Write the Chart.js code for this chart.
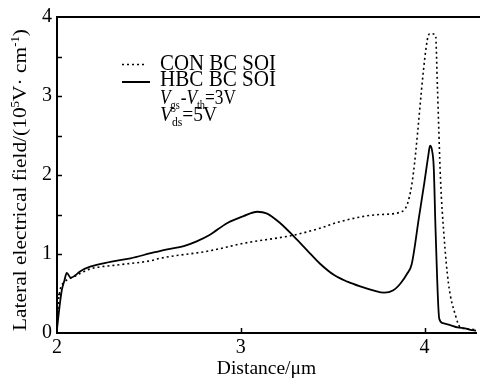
<!DOCTYPE html>
<html><head><meta charset="utf-8">
<script src="https://cdn.jsdelivr.net/npm/chart.js@4/dist/chart.umd.min.js"></script>
<style>html,body{margin:0;padding:0;background:#fff}#wrap{width:480px;height:383px;position:relative}</style>
</head><body><div id="wrap"><canvas id="c" width="480" height="383"></canvas></div>
<script>
// ---- data ----
const hbcX = [2.00, 2.012, 2.026, 2.04, 2.053, 2.075, 2.10, 2.125, 2.18, 2.29, 2.40, 2.51, 2.60, 2.69, 2.76, 2.83, 2.925, 3.015, 3.09, 3.14, 3.215, 3.29, 3.36, 3.43, 3.51, 3.58, 3.65, 3.72, 3.78, 3.83, 3.87, 3.905, 3.93, 3.97, 4.00, 4.02, 4.03, 4.04, 4.05, 4.06, 4.08, 4.10, 4.14, 4.18, 4.22, 4.25, 4.28];
const hbcY = [0.05, 0.30, 0.54, 0.66, 0.76, 0.70, 0.73, 0.78, 0.84, 0.90, 0.945, 1.01, 1.06, 1.10, 1.16, 1.24, 1.39, 1.48, 1.535, 1.515, 1.39, 1.22, 1.05, 0.88, 0.73, 0.65, 0.59, 0.54, 0.51, 0.54, 0.63, 0.75, 0.87, 1.47, 1.92, 2.24, 2.37, 2.32, 2.10, 1.30, 0.18, 0.125, 0.10, 0.07, 0.06, 0.04, 0.03];
const conX = [2.00, 2.01, 2.044, 2.09, 2.18, 2.325, 2.51, 2.56, 2.83, 3.015, 3.29, 3.43, 3.54, 3.76, 3.88, 3.93, 4.015, 4.03, 4.06, 4.07, 4.087, 4.105, 4.13, 4.17, 4.195, 4.24, 4.28];
const conY = [0.05, 0.45, 0.65, 0.71, 0.81, 0.86, 0.915, 0.945, 1.04, 1.135, 1.24, 1.325, 1.41, 1.50, 1.54, 1.87, 3.71, 3.79, 3.77, 3.12, 1.94, 1.26, 0.63, 0.21, 0.07, 0.05, 0.04];
const seriesNames = ['CON BC SOI', 'HBC BC SOI'];
const xTickValues = [2, 3, 4];
const yTickValues = [0, 1, 2, 3, 4];
const yMinorTicks = [0.5, 1.5, 2.5, 3.5];
const xTitleText = 'Distance/\u03bcm';

const FONT = '"Liberation Serif", "Times New Roman", serif';
const zip = (xs, ys) => xs.map((x, i) => ({x, y: ys[i]}));

function drawRuns(ctx, runs, x, y, size, targetWidth) {
  let w = 0;
  const parts = runs.map(r => {
    const s = (r.sub || r.sup) ? size * 0.6 : size;
    const f = (r.it ? 'italic ' : '') + s + 'px ' + FONT;
    ctx.font = f;
    const mw = ctx.measureText(r.t).width + (r.gap || 0);
    w += mw;
    return {r, f, mw, s};
  });
  const sx = targetWidth ? targetWidth / w : 1;
  ctx.save();
  ctx.translate(x, y);
  ctx.scale(sx, 1);
  let cx = 0;
  ctx.textBaseline = 'alphabetic';
  ctx.textAlign = 'left';
  ctx.fillStyle = '#000';
  for (const p of parts) {
    ctx.font = p.f;
    let dy = 0;
    if (p.r.sub) dy = size * 0.24;
    if (p.r.sup) dy = -size * 0.38;
    ctx.fillText(p.r.t, cx, dy);
    cx += p.mw;
  }
  ctx.restore();
}

const decor = {
  id: 'decor',
  afterDraw(chart) {
    const ctx = chart.ctx;
    const xs = chart.scales.x, ys = chart.scales.y;
    const a = chart.chartArea;
    ctx.save();
    ctx.strokeStyle = '#000';
    ctx.lineWidth = 2;
    ctx.beginPath(); ctx.moveTo(a.left, a.top); ctx.lineTo(480, a.top); ctx.stroke();
    ctx.lineWidth = 1.5;
    ctx.beginPath();
    yTickValues.concat(yMinorTicks).forEach(v => {
      if (v <= 0 || v >= 4) return;
      const py = Math.round(ys.getPixelForValue(v)) + 0.5;
      ctx.moveTo(a.left, py); ctx.lineTo(a.left + 5, py);
    });
    xTickValues.forEach(v => {
      if (v <= 2) return;
      const px = Math.round(xs.getPixelForValue(v)) + 0.5;
      ctx.moveTo(px, a.bottom); ctx.lineTo(px, a.bottom - 5);
    });
    ctx.stroke();
    // legend
    ctx.lineWidth = 1.5;
    ctx.setLineDash([2, 3]);
    ctx.beginPath(); ctx.moveTo(122, 64.5); ctx.lineTo(147, 64.5); ctx.stroke();
    ctx.setLineDash([]);
    ctx.lineWidth = 2;
    ctx.beginPath(); ctx.moveTo(122, 82); ctx.lineTo(150, 82); ctx.stroke();
    drawRuns(ctx, [{t: seriesNames[0]}], 160, 69.5, 23, 116);
    drawRuns(ctx, [{t: seriesNames[1]}], 160, 86, 23, 116);
    drawRuns(ctx, [{t:'V', it:true},{t:'gs', sub:true, gap:1},{t:'-'},{t:'V', it:true},{t:'th', sub:true},{t:'=3V'}], 160, 104, 21, 76);
    drawRuns(ctx, [{t:'V', it:true},{t:'ds', sub:true},{t:'=5V'}], 160, 121, 21, 57);
    // y title
    ctx.save();
    ctx.translate(26, 331);
    ctx.rotate(-Math.PI / 2);
    drawRuns(ctx, [{t:'Lateral electrical field/(10'},{t:'5', sup:true},{t:'V\u00b7 cm'},{t:'-1', sup:true},{t:')'}], 0, 0, 19.5, 302);
    ctx.restore();
    ctx.restore();
  }
};

new Chart(document.getElementById('c'), {
  type: 'line',
  data: {
    datasets: [
      {label: seriesNames[0], data: zip(conX, conY), borderColor: '#000', borderWidth: 1.6, borderDash: [2, 3], pointRadius: 0, fill: false, cubicInterpolationMode: 'monotone'},
      {label: seriesNames[1], data: zip(hbcX, hbcY), borderColor: '#000', borderWidth: 1.8, pointRadius: 0, fill: false, cubicInterpolationMode: 'monotone'}
    ]
  },
  options: {
    responsive: false,
    animation: false,
    devicePixelRatio: 1,
    layout: {padding: {top: 17, right: 4, left: 0, bottom: 0}},
    plugins: {legend: {display: false}, tooltip: {enabled: false}},
    scales: {
      x: {
        type: 'linear', min: 2, max: 4.28,
        afterFit(s) { s.height = 50; },
        afterBuildTicks(s) { s.ticks = xTickValues.map(v => ({value: v})); },
        grid: {display: false, drawTicks: false},
        border: {display: true, color: '#000', width: 2},
        ticks: {color: '#000', font: {family: FONT, size: 20}, padding: 3, maxRotation: 0, autoSkip: false},
        title: {display: true, text: xTitleText, color: '#000', font: {family: FONT, size: 19.5}, padding: {top: 0, bottom: 2}}
      },
      y: {
        type: 'linear', min: 0, max: 4,
        afterFit(s) { s.width = 57; },
        afterBuildTicks(s) { s.ticks = yTickValues.map(v => ({value: v})); },
        grid: {display: false, drawTicks: false},
        border: {display: true, color: '#000', width: 2},
        ticks: {color: '#000', font: {family: FONT, size: 20}, padding: 5, autoSkip: false}
      }
    }
  },
  plugins: [decor]
});
</script>
</body></html>
